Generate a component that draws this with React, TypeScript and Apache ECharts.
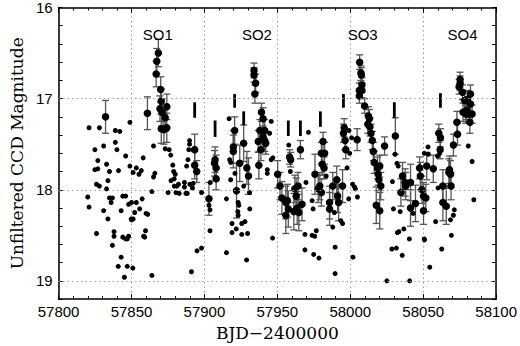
import React, { useEffect, useRef } from "react";
import * as echarts from "echarts";

// Small dots (no error bars): [BJD-2400000, magnitude]
const smallDots: number[][] = [
  [57820.9, 17.32], [57828.0, 17.32], [57838.9, 17.35], [57842.0, 17.36], [57848.9, 17.26],
  [57824.9, 17.56], [57830.9, 17.52], [57838.9, 17.48], [57840.0, 17.56], [57846.0, 17.63],
  [57826.9, 17.68], [57824.9, 17.78], [57826.9, 17.77], [57832.9, 17.72], [57834.9, 17.80],
  [57841.1, 17.79], [57848.9, 17.74], [57826.0, 17.94], [57828.0, 17.96], [57833.8, 17.90],
  [57832.9, 17.99], [57820.0, 18.08], [57820.9, 18.19], [57834.9, 18.09], [57836.9, 18.09],
  [57836.0, 18.14], [57844.0, 18.07], [57846.0, 18.07], [57848.0, 18.16], [57830.9, 18.23],
  [57842.9, 18.23], [57833.8, 18.32], [57849.8, 18.32], [57826.0, 18.48], [57838.0, 18.46],
  [57838.0, 18.51], [57844.0, 18.52], [57846.0, 18.54], [57847.1, 18.54], [57848.0, 18.51],
  [57836.9, 18.61], [57842.9, 18.74], [57840.9, 18.84], [57847.1, 18.84], [57845.1, 18.96],
  [57851.1, 17.81], [57853.3, 17.76], [57855.1, 17.83], [57856.7, 17.79], [57858.0, 17.65],
  [57865.1, 17.86], [57866.0, 17.82], [57864.0, 18.02], [57865.1, 17.52], [57875.1, 18.03],
  [57873.1, 17.55], [57875.8, 17.56], [57876.9, 17.62], [57878.3, 17.73], [57878.9, 17.80],
  [57880.0, 17.83], [57879.3, 17.88], [57877.1, 17.90], [57879.3, 17.96], [57881.1, 17.96],
  [57882.2, 17.94], [57880.5, 18.03], [57882.7, 18.04], [57886.3, 17.92], [57886.3, 17.97],
  [57887.3, 18.04], [57887.8, 17.74], [57888.2, 18.04], [57890.0, 17.94], [57891.8, 17.98],
  [57892.3, 17.93], [57898.0, 18.03], [57889.8, 17.46], [57889.8, 17.50], [57889.3, 17.56],
  [57888.7, 17.67], [57851.1, 18.32], [57850.0, 18.33], [57850.0, 18.14], [57853.3, 18.14],
  [57852.2, 18.25], [57855.6, 18.21], [57857.3, 18.10], [57860.0, 18.26], [57861.1, 18.27],
  [57859.6, 18.45], [57858.3, 18.51], [57859.1, 18.52], [57850.9, 18.86], [57864.0, 18.94],
  [57891.1, 18.90], [57894.9, 18.67], [57898.0, 18.64],
  [57916.9, 17.22], [57917.3, 17.67], [57918.0, 17.70], [57918.0, 17.89], [57915.1, 18.10],
  [57920.9, 17.82], [57923.1, 18.14], [57923.6, 18.17], [57923.1, 18.28], [57918.9, 18.37],
  [57918.9, 18.47], [57921.8, 18.43], [57925.6, 18.49], [57927.8, 18.35], [57925.6, 18.37],
  [57929.6, 18.48], [57931.1, 18.21], [57930.9, 18.03], [57926.9, 17.96], [57915.1, 18.69],
  [57928.9, 18.77], [57945.8, 17.25], [57944.7, 17.38], [57945.8, 17.67], [57946.9, 17.65],
  [57943.1, 17.78], [57943.1, 17.82], [57946.7, 18.53], [57904.0, 17.92], [57903.8, 18.22],
  [57903.1, 18.17], [57903.8, 18.45], [57922.9, 18.24],
  [57957.8, 17.51], [57958.9, 17.80], [57971.3, 17.37], [57969.6, 17.92], [57973.8, 18.12],
  [57974.5, 18.21], [57968.9, 18.49], [57973.8, 18.50], [57975.6, 18.51], [57976.7, 18.45],
  [57968.9, 18.66], [57974.9, 18.71], [57978.5, 18.75], [57989.6, 18.63], [57989.6, 18.92],
  [57988.0, 18.41], [57993.5, 18.34], [57994.7, 18.37], [57998.9, 18.10], [57999.1, 17.35],
  [57997.8, 17.76], [57983.5, 17.85], [57989.1, 18.25],
  [58000.9, 17.43], [57999.6, 17.60], [58001.8, 18.74], [58001.6, 17.94], [58002.9, 17.97],
  [58003.5, 17.99], [58004.9, 18.08], [58030.7, 17.61], [58032.0, 17.71], [58032.9, 17.74],
  [58028.9, 17.91], [58029.6, 18.21], [58034.2, 18.24], [58033.3, 18.46], [58032.3, 18.47],
  [58036.7, 18.43], [58028.5, 18.65], [58031.6, 18.64], [58035.6, 18.72], [58040.5, 18.54],
  [58025.1, 19.00], [58040.7, 19.00], [58043.1, 18.26], [58050.7, 18.54],
  [58053.3, 17.53], [58053.5, 17.61], [58050.7, 17.60], [58059.8, 17.63], [58061.3, 17.60],
  [58060.2, 17.98], [58058.5, 18.35], [58050.9, 18.55], [58062.7, 18.65], [58054.5, 18.85],
  [58069.3, 18.50], [58068.7, 18.33], [58070.7, 18.28], [58071.3, 18.22], [58080.9, 17.52],
  [58083.5, 17.69], [58084.7, 18.11],
];

// Points with error bars: [BJD-2400000, magnitude, error]
const errPoints: number[][] = [
  [57832.2, 17.20, 0.18], [57860.9, 17.16, 0.18],
  [57868.4, 16.50, 0.15], [57867.3, 16.59, 0.14], [57866.9, 16.73, 0.14], [57870.0, 16.90, 0.14],
  [57870.4, 17.03, 0.14], [57869.5, 17.11, 0.14], [57870.9, 17.15, 0.15], [57874.2, 17.09, 0.14],
  [57873.1, 17.21, 0.15], [57870.4, 17.33, 0.16], [57874.2, 17.32, 0.16], [57872.2, 17.34, 0.16],
  [57893.3, 17.56, 0.17], [57893.3, 17.73, 0.15], [57894.7, 17.80, 0.12],
  [57907.3, 17.67, 0.14], [57906.9, 17.71, 0.14], [57908.0, 17.76, 0.14], [57908.0, 17.88, 0.12],
  [57903.1, 18.10, 0.18],
  [57920.7, 17.35, 0.15], [57919.8, 17.53, 0.18], [57919.8, 17.58, 0.18], [57924.2, 17.71, 0.2],
  [57922.0, 18.01, 0.3], [57926.9, 17.49, 0.2], [57929.1, 17.76, 0.18], [57930.2, 17.85, 0.2],
  [57934.0, 16.69, 0.08], [57934.0, 16.74, 0.08], [57935.1, 16.83, 0.1], [57934.6, 16.95, 0.1],
  [57939.1, 17.15, 0.1], [57940.2, 17.22, 0.12], [57938.0, 17.35, 0.12], [57941.3, 17.35, 0.12],
  [57940.2, 17.42, 0.12], [57941.3, 17.46, 0.12], [57936.9, 17.47, 0.12], [57942.0, 17.49, 0.12],
  [57938.7, 17.56, 0.12], [57937.3, 17.73, 0.15],
  [57950.2, 17.83, 0.15], [57951.8, 17.96, 0.15], [57953.1, 18.09, 0.18], [57955.8, 18.14, 0.18],
  [57956.9, 18.12, 0.18], [57955.8, 18.28, 0.2], [57957.5, 18.21, 0.2], [57959.1, 17.67, 0.08],
  [57958.4, 17.64, 0.08], [57962.0, 17.99, 0.15], [57962.9, 18.07, 0.2], [57961.3, 18.24, 0.2],
  [57964.7, 18.25, 0.2], [57963.6, 18.20, 0.18], [57964.2, 17.96, 0.15], [57965.8, 17.56, 0.1],
  [57966.9, 18.16, 0.18], [57975.8, 17.83, 0.22], [57979.1, 17.96, 0.15], [57980.2, 18.03, 0.15],
  [57980.2, 17.60, 0.12], [57980.7, 17.72, 0.12], [57982.0, 17.76, 0.12], [57982.4, 17.60, 0.12],
  [57981.3, 17.47, 0.1], [57978.0, 17.99, 0.15], [57985.8, 18.21, 0.18], [57985.8, 18.14, 0.18],
  [57988.0, 17.96, 0.15], [57990.7, 17.89, 0.15], [57991.3, 18.07, 0.18], [57992.0, 18.14, 0.2],
  [57994.7, 17.96, 0.18], [57995.8, 17.32, 0.1], [57995.3, 17.38, 0.1], [57996.4, 17.46, 0.1],
  [57996.9, 17.56, 0.1],
  [58006.4, 16.60, 0.08], [58007.3, 16.72, 0.08], [58007.6, 16.74, 0.08], [58008.0, 16.85, 0.08],
  [58008.0, 16.91, 0.08], [58006.2, 16.91, 0.08], [58006.2, 16.97, 0.08], [58009.8, 17.08, 0.08],
  [58012.4, 17.19, 0.1], [58013.1, 17.22, 0.1], [58012.0, 17.28, 0.1], [58013.5, 17.31, 0.1],
  [58014.2, 17.38, 0.1], [58015.1, 17.46, 0.1], [58015.8, 17.58, 0.1], [58016.4, 17.70, 0.12],
  [58018.7, 17.76, 0.12], [58020.2, 17.74, 0.12], [58019.1, 17.83, 0.12], [58019.6, 17.89, 0.12],
  [58020.9, 17.96, 0.15], [58017.8, 18.17, 0.2], [58020.2, 18.23, 0.2], [58004.7, 17.45, 0.12],
  [58023.5, 17.52, 0.1], [58030.9, 17.41, 0.2],
  [58034.7, 18.03, 0.15], [58035.8, 17.85, 0.15], [58037.6, 17.92, 0.15], [58038.0, 17.96, 0.15],
  [58041.3, 17.92, 0.2], [58041.3, 18.20, 0.2], [58044.7, 18.15, 0.2], [58047.5, 17.76, 0.12],
  [58048.0, 17.85, 0.15], [58049.1, 18.00, 0.15],
  [58052.4, 17.74, 0.15], [58056.9, 17.77, 0.15], [58050.2, 18.07, 0.15], [58051.8, 18.09, 0.15],
  [58050.2, 18.23, 0.15], [58060.7, 17.38, 0.1], [58061.8, 17.43, 0.1], [58061.6, 17.56, 0.1],
  [58063.5, 17.96, 0.18], [58063.5, 18.14, 0.2], [58065.8, 18.18, 0.2], [58068.0, 17.78, 0.15],
  [58067.6, 17.81, 0.15], [58068.7, 17.83, 0.15], [58069.1, 17.96, 0.15], [58070.7, 17.51, 0.12],
  [58073.5, 17.39, 0.12], [58073.1, 17.26, 0.12], [58075.3, 16.79, 0.08], [58075.3, 16.83, 0.08],
  [58074.6, 16.87, 0.08], [58076.9, 16.93, 0.08], [58078.4, 17.02, 0.1], [58080.2, 17.01, 0.1],
  [58081.3, 17.17, 0.1], [58082.0, 17.26, 0.12], [58082.4, 16.95, 0.1], [58077.3, 17.15, 0.1],
  [58079.1, 17.17, 0.1], [58079.8, 17.13, 0.1], [58083.5, 17.17, 0.1], [58082.4, 17.06, 0.1],
];

// Vertical bar markers: [BJD-2400000, top magnitude, bottom magnitude]
const markers: number[][] = [
  [57893.3, 17.04, 17.21], [57907.3, 17.24, 17.42], [57920.7, 16.95, 17.10], [57926.9, 17.14, 17.29],
  [57957.5, 17.24, 17.41], [57965.8, 17.24, 17.41], [57979.5, 17.14, 17.31], [57995.3, 16.95, 17.10],
  [58030.2, 17.04, 17.21], [58061.8, 16.94, 17.10],
];

// Superoutburst labels
const soNames = ["SO1", "SO2", "SO3", "SO4"];
const soX = [57868, 57936, 58008.5, 58077];
const soY = [16.3, 16.3, 16.3, 16.3];

const xMin = 57800;
const xMax = 58100;
const yMin = 16;
const yMax = 19.2;
const yGridValues = [17, 18, 19];

const dotted = { type: [1.5, 3] as any, color: "#9a9a9a", width: 1 };

export default function App() {
  const ref = useRef<HTMLDivElement>(null);
  useEffect(() => {
    if (!ref.current) return;
    const chart = echarts.init(ref.current, null, { renderer: "svg" });

    const errRender = (params: any, api: any) => {
      const x = api.value(0);
      const y = api.value(1);
      const e = api.value(2);
      const a = api.coord([x, y - e]);
      const b = api.coord([x, y + e]);
      const hw = 3.5;
      const st = { stroke: "#555555", lineWidth: 1.3 };
      return {
        type: "group",
        children: [
          { type: "line", shape: { x1: a[0], y1: a[1], x2: b[0], y2: b[1] }, style: st },
          { type: "line", shape: { x1: a[0] - hw, y1: a[1], x2: a[0] + hw, y2: a[1] }, style: st },
          { type: "line", shape: { x1: b[0] - hw, y1: b[1], x2: b[0] + hw, y2: b[1] }, style: st },
        ],
      };
    };

    const markerRender = (params: any, api: any) => {
      const a = api.coord([api.value(0), api.value(1)]);
      const b = api.coord([api.value(0), api.value(2)]);
      return {
        type: "rect",
        shape: { x: a[0] - 1.4, y: Math.min(a[1], b[1]), width: 2.8, height: Math.abs(b[1] - a[1]) },
        style: { fill: "#000" },
      };
    };

    const labelFont = { color: "#000", fontSize: 15, fontFamily: "Liberation Sans" };
    const nameFont = { color: "#000", fontSize: 17, fontFamily: "DejaVu Serif" };

    const xCommon = {
      type: "value",
      min: xMin,
      max: xMax,
      interval: 50,
      axisLine: { show: true, onZero: false, lineStyle: { color: "#000", width: 1.5 } },
      axisTick: { show: true, inside: true, length: 5, lineStyle: { color: "#000", width: 1 } },
      minorTick: { show: true, splitNumber: 5, length: 3, lineStyle: { color: "#000", width: 1 } },
    };
    const yCommon = {
      type: "value",
      inverse: true,
      min: yMin,
      max: yMax,
      interval: 0.2,
      axisLine: { show: true, onZero: false, lineStyle: { color: "#000", width: 1.5 } },
      axisTick: { show: true, inside: true, length: 4, lineStyle: { color: "#000", width: 1 } },
      splitLine: { show: false },
    };

    chart.setOption({
      animation: false,
      grid: { left: 48, right: 22, top: 5, bottom: 45, containLabel: false },
      xAxis: [
        {
          ...xCommon,
          position: "bottom",
          splitLine: { show: true, lineStyle: dotted },
          axisLabel: { ...labelFont, margin: 5, formatter: (v: number) => String(Math.round(v)) },
          name: "BJD\u22122400000",
          nameLocation: "middle",
          nameGap: 23,
          nameTextStyle: nameFont,
        },
        {
          ...xCommon,
          position: "top",
          splitLine: { show: false },
          axisLabel: { show: false },
        },
      ],
      yAxis: [
        {
          ...yCommon,
          position: "left",
          axisLabel: {
            ...labelFont,
            margin: 6,
            formatter: (v: number) => (Math.abs(v - Math.round(v)) < 1e-6 && v < 19.1 ? String(Math.round(v)) : ""),
          },
          name: "Unfiltered CCD Magnitude",
          nameLocation: "middle",
          nameGap: 32,
          nameTextStyle: nameFont,
        },
        {
          ...yCommon,
          position: "right",
          axisLabel: { show: false },
        },
      ],
      series: [
        {
          type: "custom",
          renderItem: errRender,
          data: errPoints,
          xAxisIndex: 0,
          yAxisIndex: 0,
          z: 2,
          silent: true,
        },
        {
          type: "scatter",
          data: errPoints.map((p) => [p[0], p[1]]),
          symbolSize: 7.5,
          itemStyle: { color: "#000", opacity: 1 },
          z: 3,
          silent: true,
        },
        {
          type: "scatter",
          data: smallDots,
          symbolSize: 5,
          itemStyle: { color: "#000", opacity: 1 },
          z: 3,
          silent: true,
          markLine: {
            silent: true,
            symbol: "none",
            label: { show: false },
            lineStyle: dotted,
            data: yGridValues.map((v) => ({ yAxis: v })),
          },
        },
        {
          type: "custom",
          renderItem: markerRender,
          data: markers,
          z: 4,
          silent: true,
        },
        {
          type: "scatter",
          data: soNames.map((n, i) => ({ name: n, value: [soX[i], soY[i]] })),
          symbolSize: 0,
          silent: true,
          itemStyle: { color: "#000", opacity: 1 },
          label: {
            show: true,
            position: "inside",
            formatter: (p: any) => p.name,
            color: "#000",
            opacity: 1,
            fontSize: 15,
            fontFamily: "Liberation Sans",
          },
        },
      ],
    });
    return () => chart.dispose();
  }, []);
  return <div ref={ref} style={{ width: 520, height: 346, position: "absolute", left: 0, top: 0 }} />;
}
